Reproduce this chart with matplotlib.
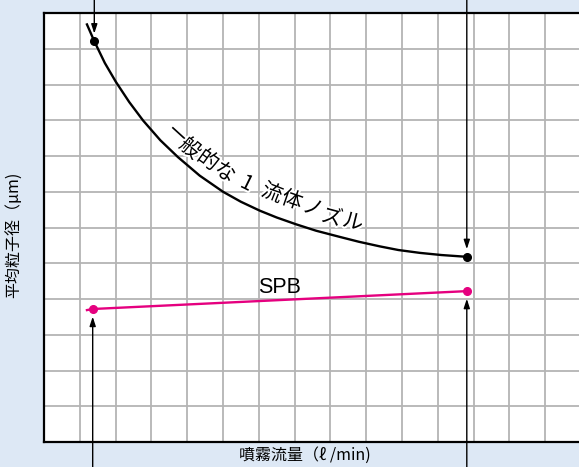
import matplotlib
matplotlib.use("Agg")
import matplotlib.pyplot as plt
import matplotlib.patheffects as pe
import numpy as np

plt.rcParams['font.family'] = ['Noto Sans CJK JP', 'DejaVu Sans']

# general single-fluid nozzle curve (grid units)
nozzle_x = [1.20, 1.405, 1.70, 2.01, 2.38, 2.77, 3.25, 3.74, 4.35, 5.00, 5.50,
            6.03, 6.50, 7.04, 7.60, 8.27, 8.80, 9.39, 9.90, 10.50, 11.10, 11.81]
nozzle_y = [11.68, 11.21, 10.60, 10.07, 9.51, 8.99, 8.44, 7.97, 7.45, 7.00, 6.72,
            6.47, 6.28, 6.09, 5.91, 5.735, 5.60, 5.47, 5.37, 5.29, 5.23, 5.18]
nozzle_marks = [1, 21]

# SPB line
spb_x = [1.20, 1.36, 11.81]
spb_y = [3.69, 3.72, 4.22]
spb_marks = [1, 2]

curve_label = "一般的な 1 流体ノズル"
label_x = [3.74, 4.08, 4.58, 5.06, 5.67, 6.37, 6.93, 7.51, 8.04, 8.63]
label_y = [8.58, 8.21, 7.88, 7.54, 7.23, 6.96, 6.76, 6.54, 6.28, 6.15]

bg = '#dde8f5'
pink = '#e5007f'

fig = plt.figure(figsize=(5.79, 4.67), dpi=100, facecolor=bg)
ax = fig.add_axes([44 / 579, 25 / 467, 535 / 579, 429 / 467])
ax.set_facecolor('white')
ax.set_xlim(0, 535 / 35.8)
ax.set_ylim(0, 12)
ax.set_xticks(np.arange(0, 15))
ax.set_yticks(np.arange(0, 13))
ax.tick_params(length=0, labelleft=False, labelbottom=False)
ax.grid(True, color='#b4b4b4', lw=1.3)
ax.set_axisbelow(True)
for s in ['left', 'bottom', 'top']:
    ax.spines[s].set_linewidth(1.6)
    ax.spines[s].set_color('black')
ax.spines['right'].set_visible(False)

ax.plot(nozzle_x, nozzle_y, color='black', lw=1.7, zorder=3)
ax.plot([nozzle_x[i] for i in nozzle_marks], [nozzle_y[i] for i in nozzle_marks],
        'o', color='black', ms=5.5, zorder=4)
ax.plot(spb_x, spb_y, color=pink, lw=1.7, zorder=3)
ax.plot([spb_x[i] for i in spb_marks], [spb_y[i] for i in spb_marks],
        'o', color=pink, ms=5.5, zorder=4)

# arrows pointing at the marked points
arrow = dict(arrowstyle='-|>,head_length=0.55,head_width=0.18', color='black',
             lw=1.0, shrinkA=0, shrinkB=5.5)
for i in nozzle_marks:
    ax.annotate('', xy=(nozzle_x[i], nozzle_y[i]), xycoords='data',
                xytext=(nozzle_x[i], 1.0), textcoords=('data', 'figure fraction'),
                arrowprops=arrow, annotation_clip=False)
for i in spb_marks:
    ax.annotate('', xy=(spb_x[i], spb_y[i]), xycoords='data',
                xytext=(spb_x[i], 0.0), textcoords=('data', 'figure fraction'),
                arrowprops=arrow, annotation_clip=False)

# curved label along the curve
slopes = np.gradient(nozzle_y, nozzle_x)
chars = [c for c in curve_label if c != ' ']
halo = [pe.withStroke(linewidth=3, foreground='white')]
for c, lx, ly in zip(chars, label_x, label_y):
    ang = np.degrees(np.arctan(np.interp(lx, nozzle_x, slopes)))
    ax.text(lx, ly, c, fontsize=15, rotation=ang, rotation_mode='anchor',
            ha='center', va='center', zorder=5, path_effects=halo)

ax.text(6.59, 4.33, 'SPB', fontsize=15.5, ha='center', va='center',
        family='Liberation Sans', zorder=5)

fig.text(305 / 579, 1 - 455 / 467, '噴霧流量（ℓ /min)', fontsize=11.5,
         ha='center', va='center')
fig.text(15 / 579, 1 - 235 / 467, '平均粒子径（μm)', fontsize=11.5,
         ha='center', va='center', rotation=90)

fig.savefig('out.png', dpi=100, facecolor=bg)
